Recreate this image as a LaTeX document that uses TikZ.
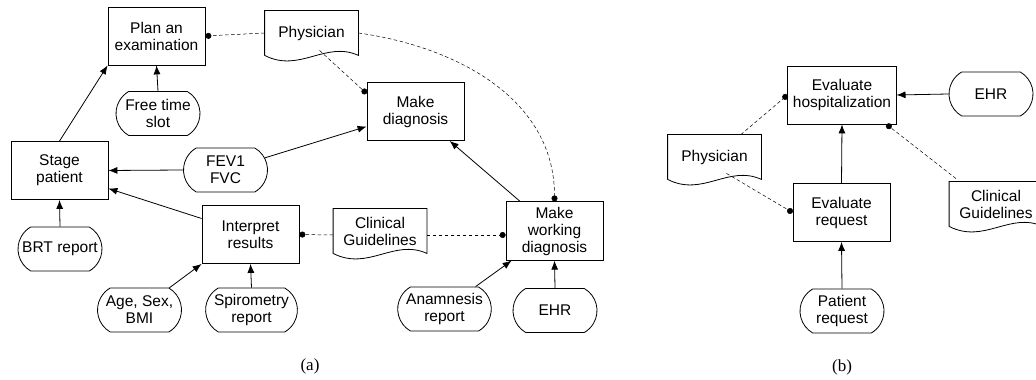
\documentclass[tikz,border=0pt]{standalone}
\usepackage{fontspec}
\setmainfont{Liberation Sans}
\newfontfamily\capfont{Liberation Serif}
\usetikzlibrary{arrows.meta, shapes.misc, positioning}

\tikzset{
  proc/.style={draw, rectangle, minimum width=97pt, minimum height=58pt, inner sep=5pt, align=center},
  data/.style={draw, rounded rectangle, rounded rectangle arc length=120, minimum width=90pt, minimum height=44pt, inner sep=3pt, align=center},
  doc/.style={rectangle, minimum width=93pt, minimum height=44pt, inner sep=3pt, align=center},
  link/.style={dash pattern=on 3.5pt off 2.5pt, line width=0.5pt, -{Circle[length=6pt]}},
  sublabel/.style={font=\capfont\fontsize{17}{19}\selectfont}
}
% outline of a document node: flat top, wavy bottom
\newcommand{\docshape}[1]{%
  \draw (#1.south west) -- (#1.north west) -- (#1.north east) -- (#1.south east)
    .. controls +(-33pt,15pt) and +(35pt,-18pt) .. (#1.south west);}

\begin{document}
\begin{tikzpicture}[>={Latex[length=9pt,width=7pt]}, x=1pt, y=1pt, line width=0.8pt, font=\fontsize{15.5}{17}\selectfont]
\useasboundingbox (0,0) rectangle (1036,380);
% (a)
\node[proc] (plan) at (156.5,344) {Plan an\\examination};
\node[doc] (phys) at (311.5,347) {Physician};
\node[data] (slot) at (158,266.5) {Free time\\slot};
\node[proc] (mdiag) at (415.5,268.5) {Make\\diagnosis};
\node[proc] (stage) at (59.5,209.5) {Stage\\patient};
\node[data] (fev) at (225.5,210) {FEV1\\FVC};
\node[data] (brt) at (60,131) {BRT report};
\node[proc] (interp) at (250.5,145.5) {Interpret\\results};
\node[doc] (cg) at (380,149) {Clinical\\Guidelines};
\node[proc] (mwd) at (554.5,149) {Make\\working\\diagnosis};
\node[data] (age) at (139.5,70) {Age, Sex,\\BMI};
\node[data] (spiro) at (251.5,70) {Spirometry\\report};
\node[data] (anam) at (444.5,71) {Anamnesis\\report};
\node[data] (ehr) at (555,69.5) {EHR};
\docshape{phys}
\docshape{cg}
%
\draw[->] (stage.north) -- (plan.south west);
\draw[->] (slot.north) -- (plan.south);
\draw[link] (phys.west) -- (plan.east);
\draw[link] ([xshift=8pt,yshift=5pt]phys.south) -- ([yshift=18pt]mdiag.west);
\draw[link] (phys.east) to[out=-8, in=90] (mwd.north);
\draw[->] (fev.west) -- (stage.east);
\draw[->] (fev) -- ([yshift=-15pt]mdiag.west);
\draw[->] ([yshift=16pt]interp.west) -- ([yshift=-18pt]stage.east);
\draw[->] (brt.north) -- (stage.south);
\draw[->] (age) -- (interp.south west);
\draw[->] (spiro.north) -- (interp.south);
\draw[link] ([yshift=-4pt]cg.west) -- (interp.east);
\draw[link] ([yshift=-4pt]cg.east) -- ([yshift=-4pt]mwd.west);
\draw[->] (mwd) -- (mdiag);
\draw[->] (anam) -- ([xshift=6pt]mwd.south west);
\draw[->] (ehr.north) -- (mwd.south);
\node[sublabel] (capa) at (310,14) {(a)};
% (b)
\node[proc] (hosp) at (842,285) {Evaluate\\hospitalization};
\node[data] (ehr2) at (991,286) {EHR};
\node[doc] (phys2) at (714.5,223) {Physician};
\node[proc] (req) at (841.5,167.5) {Evaluate\\request};
\node[doc] (cg2) at (996,176) {Clinical\\Guidelines};
\node[data] (preq) at (842,69) {Patient\\request};
\docshape{phys2}
\docshape{cg2}
%
\draw[link] (phys2) -- (hosp.west);
\draw[link] ([xshift=12pt,yshift=6pt]phys2.south) -- (req.west);
\draw[->] (req.north) -- (hosp.south);
\draw[->] (ehr2.west) -- (hosp.east);
\draw[link] ([xshift=-40pt,yshift=3pt]cg2.north) -- ([xshift=-10pt]hosp.south east);
\draw[->] (preq.north) -- (req.south);
\node[sublabel] (capb) at (842,13) {(b)};
\end{tikzpicture}
\end{document}
